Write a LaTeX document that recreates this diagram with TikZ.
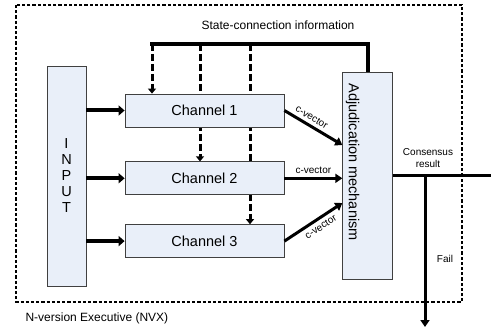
\documentclass[tikz,border=0pt]{standalone}
\usepackage{fontspec}
\setmainfont{Liberation Sans}
\usetikzlibrary{arrows.meta,positioning,backgrounds}
\definecolor{Frame}{HTML}{404040}
\definecolor{BoxFill}{HTML}{E9EFF9}
\tikzset{unit/.style={draw=Frame,fill=BoxFill,line width=.8pt,inner sep=0pt},feed/.style={-{Triangle[length=6pt,width=10pt]},line width=4pt},vec/.style={-{Triangle[length=7pt,width=9pt]},line width=3pt},statebus/.style={line width=4pt,line cap=rect},statetap/.style={-{Triangle[length=5pt,width=8pt]},line width=3pt,dash pattern=on 7pt off 3pt},nvxframe/.style={line width=2.7pt,dash pattern=on 3.2pt off 2pt},small/.style={font=\fontsize{10}{12}\selectfont},mid/.style={font=\fontsize{12}{14}\selectfont},big/.style={font=\fontsize{14.5}{16}\selectfont}}

\begin{document}
\begin{tikzpicture}[x=1pt,y=-1pt]
      \useasboundingbox (0,0) rectangle (491,329);
      \draw[nvxframe](16,5) rectangle (462,302);
      \node[mid,anchor=west](nvx) at (22,318){N-version Executive (NVX)};
      \node[mid](sci) at (278,25){State-connection information};
      % input, channels and adjudicator
      \node[unit,big,minimum width=39pt,minimum height=220pt,align=center](input) at (66.5,176){I\\N\\P\\U\\T};
      \node[unit,big,minimum width=159pt,minimum height=33pt](ch1) at (204.5,110.5){Channel 1};
      \node[unit,big,minimum width=159pt,minimum height=33pt,below=34pt of ch1](ch2){Channel 2};
      \node[unit,big,minimum width=159pt,minimum height=33pt,below=29pt of ch2](ch3){Channel 3};
      \node[unit,minimum width=49.5pt,minimum height=206.5pt](adj) at (367.5,176){};
      \node[big,rotate=-90,anchor=base west,inner sep=0pt](adjtxt) at ([xshift=6.5pt,yshift=-11pt]adj.north west){Adjudication mechanism};
      % state-connection bus runs behind the channels
      \coordinate (tap1) at (152,44);
      \coordinate (tap2) at (200,44);
      \coordinate (tap3) at (250,44);
      \begin{scope}[on background layer]
        \draw[statebus](adj.north) |- (tap1);
        \draw[statetap](tap1) -- (tap1 |- ch1.north);
        \draw[statetap](tap2) -- (tap2 |- ch2.north);
        \draw[statetap](tap3) -- (tap3 |- ch3.north);
      \end{scope}
      \foreach \c in {ch1,ch2,ch3}
        \draw[feed](input.east |- \c) -- (\c.west);
      \draw[vec](ch1.east) -- node[small,sloped,above,pos=.4]{c-vector} ([yshift=31pt]adj.west);
      \draw[vec](ch2.east) -- node[small,above]{c-vector} (adj.west |- ch2.east);
      \draw[vec](ch3.east) -- node[small,sloped,below,pos=.55]{c-vector} ([yshift=-27pt]adj.west);
      % consensus output and fail branch
      \coordinate (split) at (425,176);
      \coordinate (out) at (491,176);
      \coordinate (failend) at (425,327);
      \draw[line width=3pt](adj.east |- out) -- (out);
      \draw[vec](split) -- (failend);
      \node[small,align=center](cons) at (428,158){Consensus\\result};
      \node[small](fail) at (445,259){Fail};
    \end{tikzpicture}
\end{document}
